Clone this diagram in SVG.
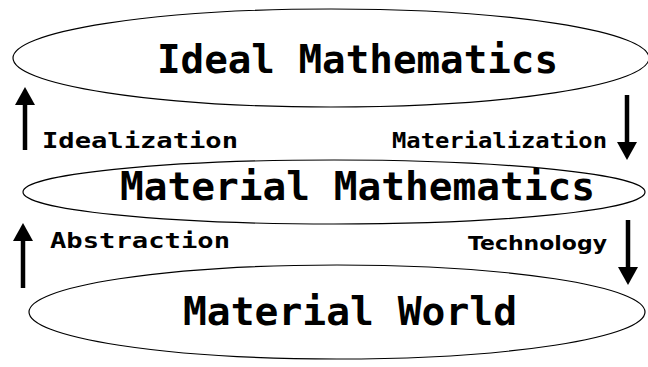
<svg xmlns="http://www.w3.org/2000/svg" width="648" height="367" viewBox="0 0 648 367">
<style>
.ell{fill:none;stroke:#000;stroke-width:1.2}
.big{font-family:"DejaVu Sans Mono","Liberation Mono",monospace;font-weight:bold;font-size:39px;fill:#000}
.small{font-family:"DejaVu Sans Mono","Liberation Mono",monospace;font-weight:bold;font-size:21px;fill:#000}
.tech{font-family:"DejaVu Sans","Liberation Sans",sans-serif;font-weight:bold;font-size:20px;fill:#000}
.arr{fill:none;stroke:#000;stroke-width:4.5;marker-end:url(#head)}
</style>
<defs>
<marker id="head" viewBox="0 0 18 20" refX="8" refY="10" markerWidth="18" markerHeight="20" markerUnits="userSpaceOnUse" orient="auto">
<path d="M0,0 L18,10 L0,20 z" fill="#000"/>
</marker>
</defs>
<rect width="648" height="367" fill="#fff"/>
<g id="ideal">
<ellipse class="ell" cx="331" cy="58" rx="318" ry="49"/>
<text class="big" x="157" y="73" textLength="401" lengthAdjust="spacingAndGlyphs">Ideal Mathematics</text>
</g>
<g id="material-math">
<ellipse class="ell" cx="334" cy="192" rx="311" ry="32"/>
<text class="big" x="120" y="200" textLength="475" lengthAdjust="spacingAndGlyphs">Material Mathematics</text>
</g>
<g id="world">
<ellipse class="ell" cx="337" cy="312" rx="308" ry="47"/>
<text class="big" x="183" y="325" textLength="334" lengthAdjust="spacingAndGlyphs">Material World</text>
</g>
<g id="connectors">
<path class="arr" d="M25,150 L25,97"/>
<path class="arr" d="M627,95 L627,150"/>
<path class="arr" d="M23,288 L23,233"/>
<path class="arr" d="M628,220 L628,275"/>
<text class="small" x="42" y="148" textLength="196" lengthAdjust="spacingAndGlyphs">Idealization</text>
<text class="small" x="392" y="148" textLength="215" lengthAdjust="spacingAndGlyphs">Materialization</text>
<text class="small" x="50" y="248" textLength="180" lengthAdjust="spacingAndGlyphs">Abstraction</text>
<text class="tech" x="468" y="250" textLength="139" lengthAdjust="spacingAndGlyphs">Technology</text>
</g>
</svg>
